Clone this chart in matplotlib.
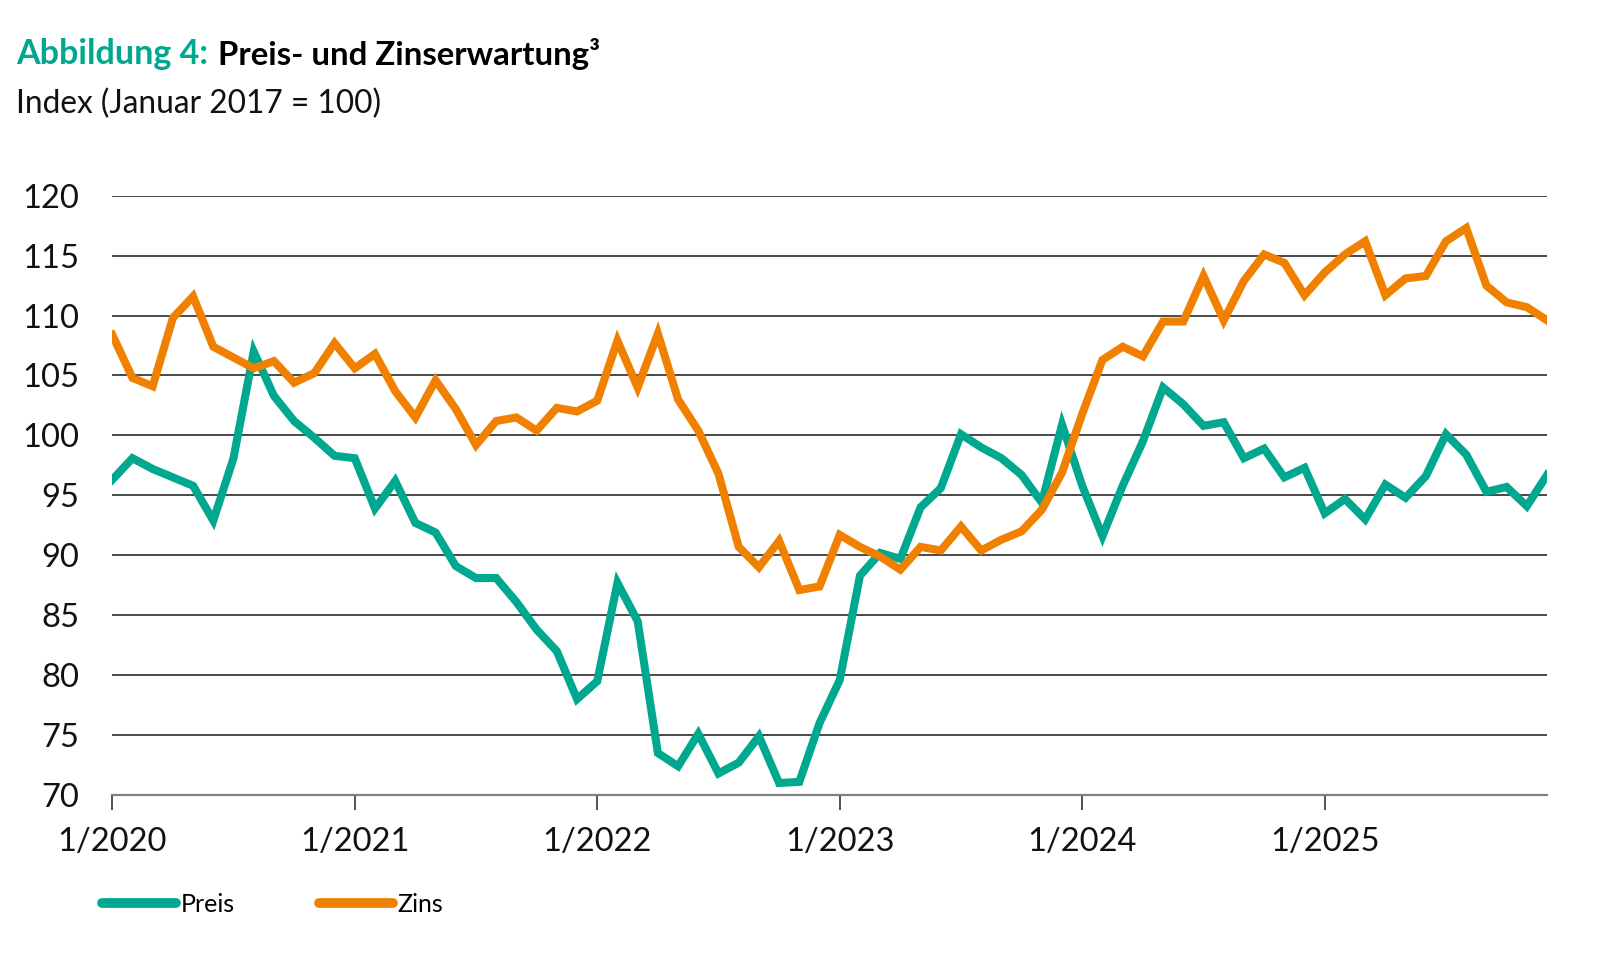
"""Abbildung 4: Preis- und Zinserwartung (Index Januar 2017 = 100)."""

import matplotlib
matplotlib.use("Agg")
import matplotlib.pyplot as plt

plt.rcParams["font.family"] = ["Lato", "DejaVu Sans"]

TEAL = "#00a88f"
ORANGE = "#f08000"
GRID = "#3a3a3a"

# monthly values, 1/2020 .. 12/2025
preis = [
    96.3, 98.1, 97.2, 96.5, 95.8, 92.9, 98.1, 107.0, 103.3, 101.2, 99.8, 98.3,
    98.1, 93.9, 96.2, 92.7, 91.9, 89.1, 88.1, 88.1, 86.1, 83.8, 82.0, 78.0,
    79.5, 87.7, 84.5, 73.5, 72.4, 75.1, 71.8, 72.7, 74.9, 71.0, 71.1, 76.0,
    79.6, 88.3, 90.2, 89.7, 94.0, 95.6, 100.1, 99.0, 98.1, 96.7, 94.4, 100.9,
    95.8, 91.6, 95.8, 99.5, 104.0, 102.6, 100.8, 101.1, 98.1, 98.9, 96.5, 97.3,
    93.5, 94.7, 93.0, 95.9, 94.8, 96.6, 100.1, 98.4, 95.3, 95.7, 94.1, 96.7,
]
zins = [
    108.4, 104.8, 104.1, 109.8, 111.6, 107.4, 106.5, 105.6, 106.2, 104.4, 105.2, 107.7,
    105.6, 106.8, 103.7, 101.5, 104.6, 102.2, 99.2, 101.2, 101.5, 100.4, 102.3, 102.0,
    102.9, 107.9, 104.0, 108.5, 103.0, 100.4, 96.8, 90.7, 89.0, 91.2, 87.1, 87.4,
    91.7, 90.7, 89.9, 88.8, 90.7, 90.4, 92.4, 90.4, 91.3, 92.0, 93.8, 96.9,
    101.8, 106.3, 107.4, 106.6, 109.5, 109.5, 113.3, 109.6, 112.9, 115.1, 114.4, 111.7,
    113.6, 115.1, 116.2, 111.7, 113.1, 113.3, 116.2, 117.3, 112.5, 111.1, 110.7, 109.6,
]
months = list(range(len(preis)))
year_ticks = [0, 12, 24, 36, 48, 60]
year_labels = ["1/2020", "1/2021", "1/2022", "1/2023", "1/2024", "1/2025"]
y_ticks = [70, 75, 80, 85, 90, 95, 100, 105, 110, 115, 120]

fig = plt.figure(figsize=(15.99, 9.64), dpi=100)
ax = fig.add_axes([0.0702, 0.1753, 0.8973, 0.6217])

for y in y_ticks[1:]:
    ax.axhline(y, color=GRID, lw=1.3, zorder=1)

ax.plot(months, preis, color=TEAL, lw=5.8, label="Preis", zorder=3,
        solid_joinstyle="miter")
ax.plot(months, zins, color=ORANGE, lw=5.8, label="Zins", zorder=3,
        solid_joinstyle="miter")

ax.set_xlim(0, len(preis) - 1)
ax.set_ylim(70, 120)
ax.set_yticks(y_ticks)
ax.set_xticks(year_ticks)
ax.set_xticklabels(year_labels)

for side in ("top", "right", "left"):
    ax.spines[side].set_visible(False)
ax.spines["bottom"].set_color("#808080")
ax.spines["bottom"].set_linewidth(1.6)
ax.spines["bottom"].set_zorder(2)

ax.tick_params(axis="y", length=0, pad=24, labelsize=23.5, labelcolor="#111111")
ax.tick_params(axis="x", length=11, width=1.2, color="#333333", pad=12,
               labelsize=23.5, labelcolor="#111111")

leg = ax.legend(loc="center left", bbox_to_anchor=(0.064, 0.062),
                bbox_transform=fig.transFigure, ncol=2, frameon=False,
                fontsize=18, handlelength=2.95, handletextpad=0.2,
                columnspacing=3.35, borderaxespad=0, borderpad=0)
for h in leg.legend_handles:
    h.set_solid_capstyle("round")
    h.set_linewidth(7)

# title: teal label followed by black title text
t1 = fig.text(0.010, 0.944, "Abbildung 4:", color=TEAL, fontsize=24.5,
              fontweight="bold", va="center", ha="left")
fig.canvas.draw()
x_end = t1.get_window_extent().x1 / fig.bbox.width
fig.text(x_end + 0.006, 0.944, "Preis- und Zinserwartung³", color="#000000",
         fontsize=23.8, fontweight="bold", va="center", ha="left")
fig.text(0.010, 0.892, "Index (Januar 2017 = 100)", color="#111111",
         fontsize=22.8, va="center", ha="left")

fig.savefig("out.png", dpi=100, facecolor="white")
